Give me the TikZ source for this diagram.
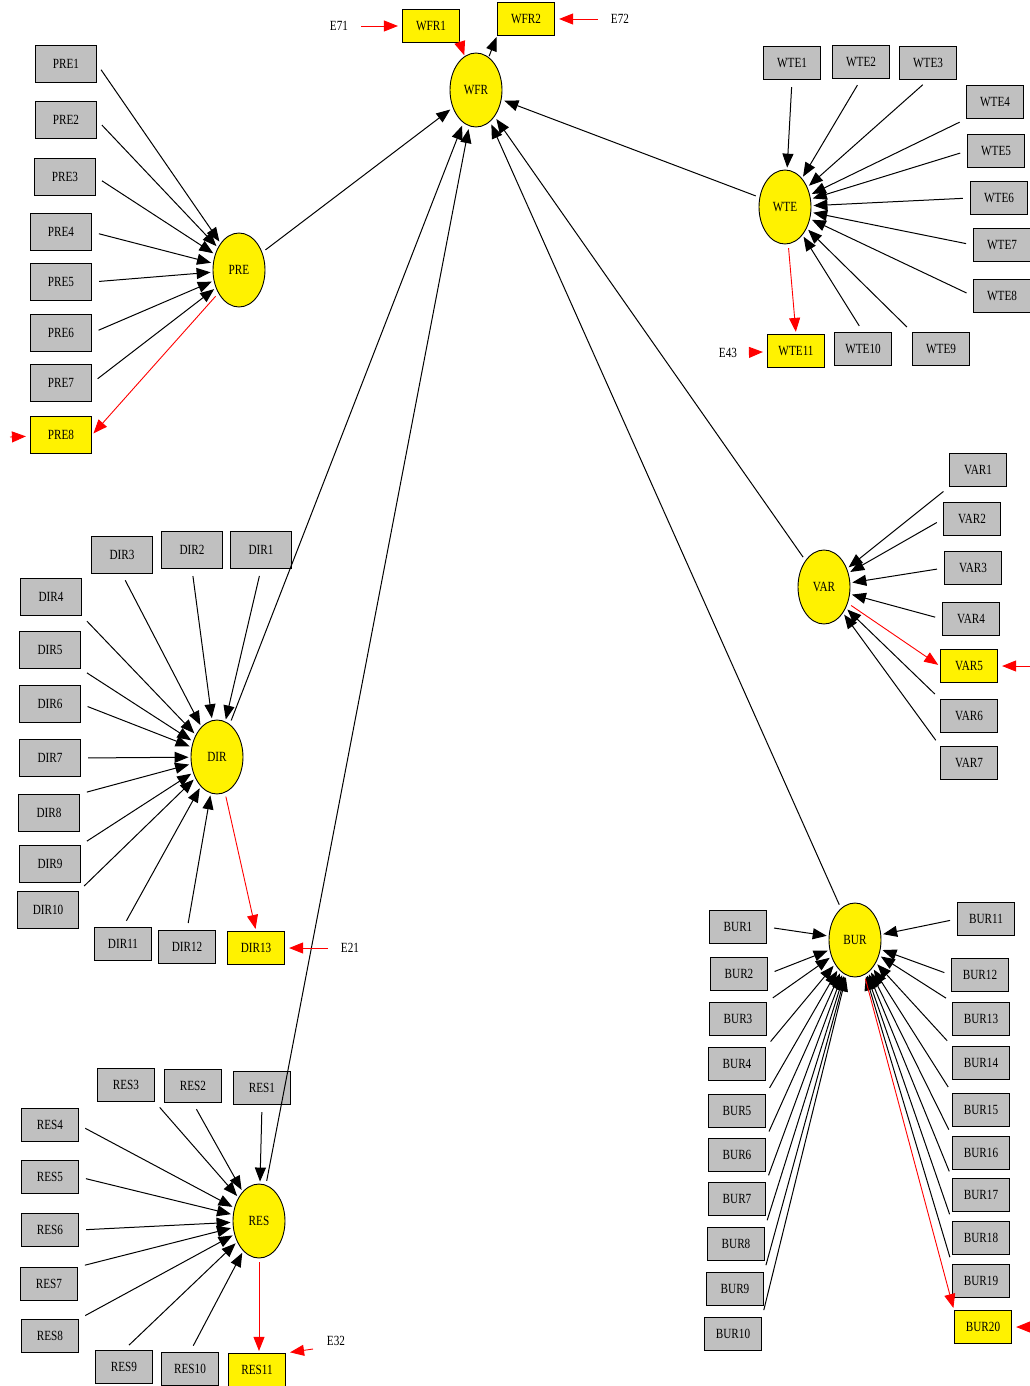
\documentclass[tikz,border=0pt]{standalone}
\usepackage{fontspec}
\setmainfont{Liberation Serif}[FakeStretch=0.8]
\usepackage{tikz}
\usetikzlibrary{arrows.meta,shapes.geometric}
\definecolor{boxgray}{RGB}{192,192,192}
\tikzset{
  basenode/.style = {align=center, inner sep=0pt, text centered,
    font=\fontsize{14}{16}\selectfont},
  lat/.style = {basenode, ellipse, draw=black, fill=yellow,
    minimum width=52pt, minimum height=74pt, line width=0.9pt},% latent variable
  ind_f/.style = {basenode, rectangle, draw=black, fill=boxgray,
    minimum width=57pt, minimum height=33pt, line width=1.2pt},% formative indicator
  ind_r/.style = {ind_f, fill=yellow},% reflective indicator
  ind_big/.style = {minimum width=61pt, minimum height=37pt},% larger boxes
  err_lbl/.style = {basenode},% error term label
  frm/.style = {-{Triangle[length=14pt,width=11pt]}, line width=1pt,
    shorten <=7pt, shorten >=2pt},% indicator -> latent
  refl/.style = {frm, red, line width=0.9pt, shorten <=4pt},% latent -> indicator
  path_l/.style = {frm, shorten <=4pt, shorten >=3pt},% latent -> latent
  err/.style = {-{Triangle[length=14pt,width=11pt]}, red, line width=0.9pt,
    shorten >=4pt},% error term
  err_far/.style = {err, shorten <=13pt}% error term from its label
}

\begin{document}
\begin{tikzpicture}[x=1pt, y=-1pt]
\useasboundingbox (0,0) rectangle (1030,1386);

% latent variables
\node [lat] (WFR) at (476,90) {WFR};
\node [lat] (PRE) at (239,270) {PRE};
\node [lat] (WTE) at (785,207) {WTE};
\node [lat] (VAR) at (824,587) {VAR};
\node [lat] (DIR) at (217,757) {DIR};
\node [lat] (RES) at (259,1221) {RES};
\node [lat] (BUR) at (855,940) {BUR};

% WFR
\node [ind_r] (WFR1) at (431,26) {WFR1};
\node [ind_r] (WFR2) at (526,19) {WFR2};
\node [err_lbl] (E71) at (339,26) {E71};
\node [err_lbl] (E72) at (620,19) {E72};

% PRE
\node [ind_f, ind_big] (PRE1) at (66,64) {PRE1};
\node [ind_f, ind_big] (PRE2) at (66,120) {PRE2};
\node [ind_f, ind_big] (PRE3) at (65,177) {PRE3};
\node [ind_f, ind_big] (PRE4) at (61,232) {PRE4};
\node [ind_f, ind_big] (PRE5) at (61,282) {PRE5};
\node [ind_f, ind_big] (PRE6) at (61,333) {PRE6};
\node [ind_f, ind_big] (PRE7) at (61,383) {PRE7};
\node [ind_r, ind_big] (PRE8) at (61,435) {PRE8};
\coordinate (ePRE8) at (10,437);

% WTE
\node [ind_f] (WTE1) at (792,63) {WTE1};
\node [ind_f] (WTE2) at (861,62) {WTE2};
\node [ind_f] (WTE3) at (928,63) {WTE3};
\node [ind_f] (WTE4) at (995,102) {WTE4};
\node [ind_f] (WTE5) at (996,151) {WTE5};
\node [ind_f] (WTE6) at (999,198) {WTE6};
\node [ind_f] (WTE7) at (1002,245) {WTE7};
\node [ind_f] (WTE8) at (1002,296) {WTE8};
\node [ind_f] (WTE9) at (941,349) {WTE9};
\node [ind_f] (WTE10) at (863,349) {WTE10};
\node [ind_r] (WTE11) at (796,351) {WTE11};
\node [err_lbl] (E43) at (728,353) {E43};

% VAR
\node [ind_f] (VAR1) at (978,470) {VAR1};
\node [ind_f] (VAR2) at (972,519) {VAR2};
\node [ind_f] (VAR3) at (973,568) {VAR3};
\node [ind_f] (VAR4) at (971,619) {VAR4};
\node [ind_r] (VAR5) at (969,666) {VAR5};
\node [ind_f] (VAR6) at (969,716) {VAR6};
\node [ind_f] (VAR7) at (969,763) {VAR7};
\coordinate (eVAR5) at (1032,666);

% DIR
\node [ind_f, ind_big] (DIR3) at (122,555) {DIR3};
\node [ind_f, ind_big] (DIR2) at (192,550) {DIR2};
\node [ind_f, ind_big] (DIR1) at (261,550) {DIR1};
\node [ind_f, ind_big] (DIR4) at (51,597) {DIR4};
\node [ind_f, ind_big] (DIR5) at (50,650) {DIR5};
\node [ind_f, ind_big] (DIR6) at (50,704) {DIR6};
\node [ind_f, ind_big] (DIR7) at (50,758) {DIR7};
\node [ind_f, ind_big] (DIR8) at (49,813) {DIR8};
\node [ind_f, ind_big] (DIR9) at (50,864) {DIR9};
\node [ind_f, ind_big] (DIR10) at (48,910) {DIR10};
\node [ind_f] (DIR11) at (123,944) {DIR11};
\node [ind_f] (DIR12) at (187,947) {DIR12};
\node [ind_r] (DIR13) at (256,948) {DIR13};
\node [err_lbl] (E21) at (350,948) {E21};

% RES
\node [ind_f] (RES3) at (126,1085) {RES3};
\node [ind_f] (RES2) at (193,1086) {RES2};
\node [ind_f] (RES1) at (262,1088) {RES1};
\node [ind_f] (RES4) at (50,1125) {RES4};
\node [ind_f] (RES5) at (50,1177) {RES5};
\node [ind_f] (RES6) at (50,1230) {RES6};
\node [ind_f] (RES7) at (49,1284) {RES7};
\node [ind_f] (RES8) at (50,1336) {RES8};
\node [ind_f] (RES9) at (124,1367) {RES9};
\node [ind_f] (RES10) at (190,1369) {RES10};
\node [ind_r] (RES11) at (257,1370) {RES11};
\node [err_lbl] (E32) at (336,1341) {E32};
\coordinate (eRES11) at (313,1349);

% BUR
\node [ind_f] (BUR1) at (738,927) {BUR1};
\node [ind_f] (BUR2) at (739,974) {BUR2};
\node [ind_f] (BUR3) at (738,1019) {BUR3};
\node [ind_f] (BUR4) at (737,1064) {BUR4};
\node [ind_f] (BUR5) at (737,1111) {BUR5};
\node [ind_f] (BUR6) at (737,1155) {BUR6};
\node [ind_f] (BUR7) at (737,1199) {BUR7};
\node [ind_f] (BUR8) at (736,1244) {BUR8};
\node [ind_f] (BUR9) at (735,1289) {BUR9};
\node [ind_f] (BUR10) at (733,1334) {BUR10};
\node [ind_f] (BUR11) at (986,919) {BUR11};
\node [ind_f] (BUR12) at (980,975) {BUR12};
\node [ind_f] (BUR13) at (981,1019) {BUR13};
\node [ind_f] (BUR14) at (981,1063) {BUR14};
\node [ind_f] (BUR15) at (981,1110) {BUR15};
\node [ind_f] (BUR16) at (981,1153) {BUR16};
\node [ind_f] (BUR17) at (981,1195) {BUR17};
\node [ind_f] (BUR18) at (981,1238) {BUR18};
\node [ind_f] (BUR19) at (981,1281) {BUR19};
\node [ind_r] (BUR20) at (983,1327) {BUR20};
\coordinate (eBUR20) at (1034,1327);

% structural paths
\foreach \lv in {PRE,WTE,VAR,DIR,RES,BUR}
  \draw [path_l] (\lv) -- (WFR);

% formative indicators
\foreach \i in {1,...,7}
  \draw [frm] (PRE\i.east) -- (PRE);
\foreach \i in {1,2,3}
  \draw [frm] (WTE\i.south) -- (WTE);
\draw [frm] (WTE4.south west) -- (WTE);
\foreach \i in {5,...,8}
  \draw [frm] (WTE\i.west) -- (WTE);
\draw [frm] (WTE9.north west) -- (WTE);
\draw [frm] (WTE10.north) -- (WTE);
\draw [frm] (VAR1.south west) -- (VAR);
\foreach \i in {2,3,4}
  \draw [frm] (VAR\i.west) -- (VAR);
\foreach \i in {6,7}
  \draw [frm] (VAR\i.north west) -- (VAR);
\foreach \i in {1,2,3}
  \draw [frm] (DIR\i.south) -- (DIR);
\foreach \i in {4,5}
  \draw [frm] (DIR\i.south east) -- (DIR);
\foreach \i in {6,7}
  \draw [frm] (DIR\i.east) -- (DIR);
\foreach \i in {8,9,10}
  \draw [frm] (DIR\i.north east) -- (DIR);
\foreach \i in {11,12}
  \draw [frm] (DIR\i.north) -- (DIR);
\foreach \i in {1,2}
  \draw [frm] (RES\i.south) -- (RES);
\draw [frm] (RES3.south east) -- (RES);
\foreach \i in {4,5,6}
  \draw [frm] (RES\i.east) -- (RES);
\foreach \i in {7,8}
  \draw [frm] (RES\i.north east) -- (RES);
\foreach \i in {9,10}
  \draw [frm] (RES\i.north) -- (RES);
\foreach \i in {1,2}
  \draw [frm] (BUR\i.east) -- (BUR);
\foreach \i in {3,...,10}
  \draw [frm] (BUR\i.north east) -- (BUR);
\foreach \i in {11,12}
  \draw [frm] (BUR\i.west) -- (BUR);
\foreach \i in {13,...,19}
  \draw [frm] (BUR\i.north west) -- (BUR);

% reflective indicators
\draw [refl, shorten <=2pt, shorten >=1pt] (WFR1.south east) -- (WFR);
\draw [frm, shorten <=1pt, shorten >=1pt] (WFR) -- (WFR2.south west);
\draw [refl] (PRE) -- (PRE8.east);
\draw [refl] (WTE) -- (WTE11.north);
\draw [refl] (VAR) -- (VAR5.west);
\draw [refl] (DIR) -- (DIR13.north);
\draw [refl] (RES) -- (RES11.north -| RES);
\draw [refl] (BUR) -- (BUR20.north west);

% error terms
\draw [err_far] (E71) -- (WFR1);
\draw [err_far] (E72) -- (WFR2);
\draw [err_far] (E43) -- (WTE11);
\draw [err_far] (E21) -- (DIR13);
\draw [err] (eRES11) -- (RES11.north east);
\draw [err] (ePRE8) -- (PRE8);
\draw [err] (eVAR5) -- (VAR5);
\draw [err] (eBUR20) -- (BUR20);
\end{tikzpicture}
\end{document}
